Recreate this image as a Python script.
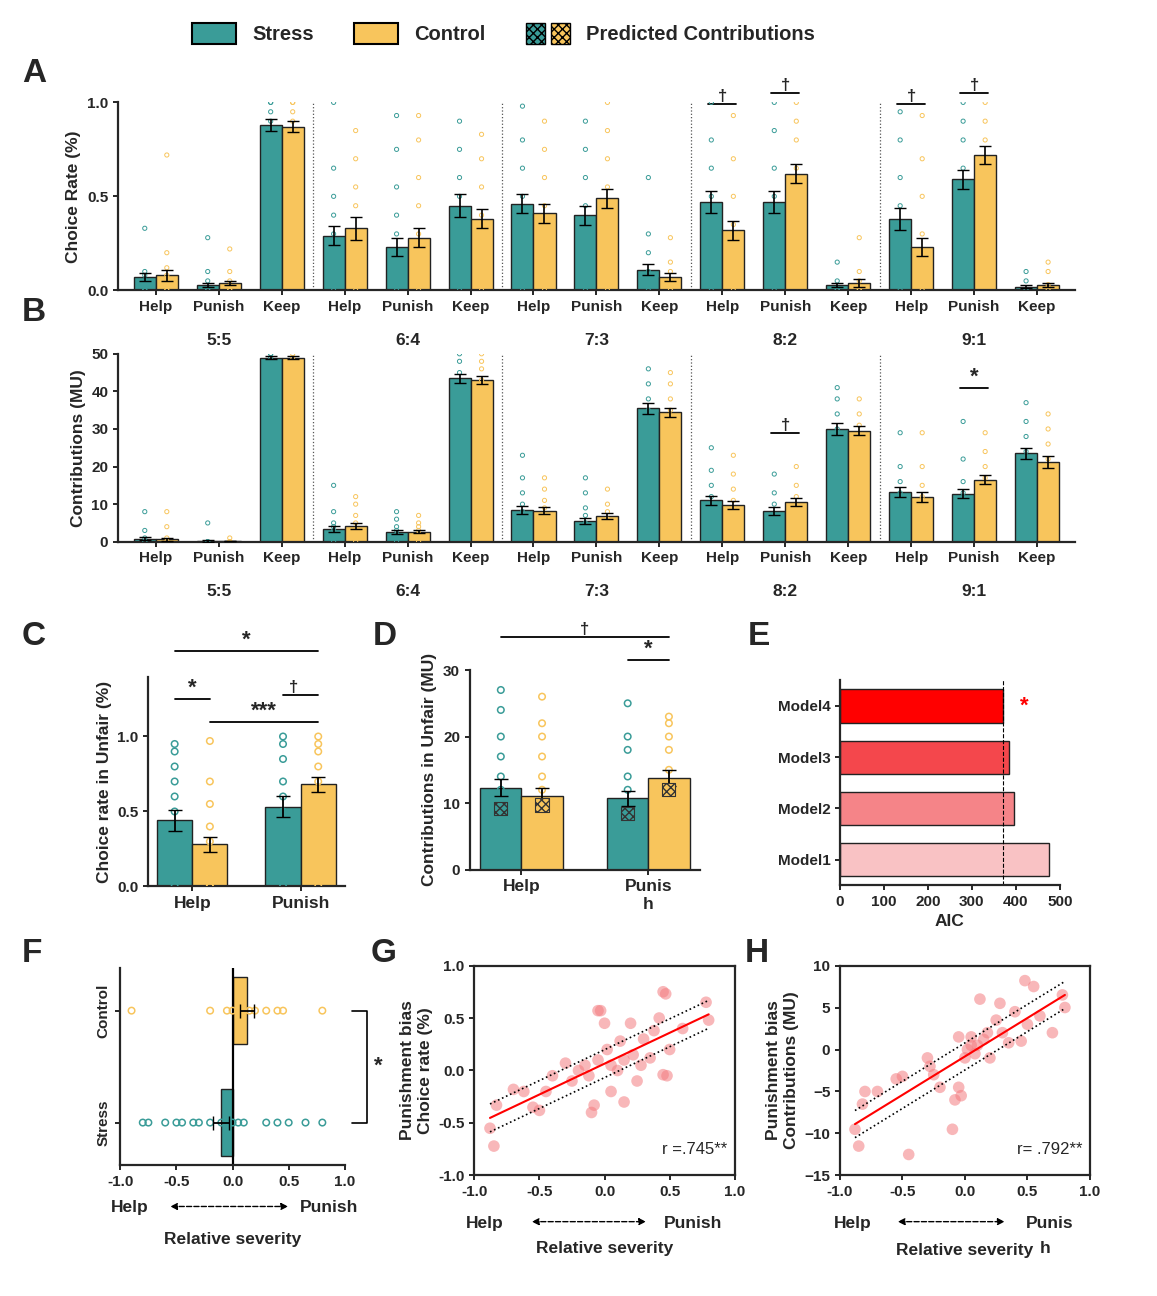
import numpy as np, pandas as pd, seaborn as sns, matplotlib
matplotlib.use("Agg")
import matplotlib.pyplot as plt
from matplotlib.patches import Patch
from matplotlib.legend_handler import HandlerTuple

sns.set_style("ticks")
plt.rcParams['font.family'] = ['Liberation Sans', 'DejaVu Sans']
plt.rcParams['font.weight'] = 'bold'
plt.rcParams['axes.labelweight'] = 'bold'
TEAL = "#3a9c98"; ORNG = "#f8c55c"; EDGE = "#222222"

ratios = ["5:5", "6:4", "7:3", "8:2", "9:1"]
choices = ["Help", "Punish", "Keep"]
conds = ["Stress", "Control"]

A_stress = [.07, .03, .88, .29, .23, .45, .46, .40, .11, .47, .47, .03, .38, .59, .02]
A_control = [.08, .04, .87, .33, .28, .38, .41, .49, .07, .32, .62, .04, .23, .72, .03]
A_sem_s = [.02, .01, .03, .05, .05, .06, .05, .05, .03, .06, .06, .01, .06, .05, .01]
A_sem_c = [.03, .01, .03, .06, .05, .05, .05, .05, .02, .05, .05, .02, .05, .05, .01]
A_pts_s = [[0,0,0,.08,.1,.33],[0,0,.05,.1,.28],[.4,.6,.75,.85,.9,.95,1,1],
           [0,.1,.2,.3,.4,.5,.65,1],[0,.1,.2,.3,.4,.55,.75,.93],[0,.2,.35,.5,.6,.75,.9],
           [0,.2,.35,.5,.65,.8,.98],[0,.15,.3,.45,.6,.75,.9],[0,.05,.1,.2,.3,.6],
           [0,.15,.3,.5,.65,.8,1],[0,.15,.3,.5,.65,.85,1],[0,0,.05,.15],
           [0,.1,.3,.45,.6,.8,.95],[.1,.3,.5,.65,.8,.9,1],[0,0,.05,.1]]
A_pts_c = [[0,0,.08,.12,.2,.72],[0,0,.05,.1,.22],[.45,.6,.8,.9,.95,1,1],
           [0,.1,.2,.3,.45,.55,.7,.85],[0,.1,.2,.3,.45,.6,.8,.93],[0,.1,.25,.4,.55,.7,.83],
           [0,.15,.3,.45,.6,.75,.9],[0,.2,.4,.55,.7,.85,1],[0,.05,.1,.15,.28],
           [0,.1,.2,.35,.5,.7,.93],[.1,.3,.5,.65,.8,.9,1],[0,0,.05,.1,.28],
           [0,.05,.15,.3,.5,.7,.93],[.3,.5,.65,.8,.9,1],[0,.03,.1,.15]]

B_stress = [.8, .2, 49, 3.5, 2.6, 43.5, 8.4, 5.5, 35.5, 11, 8.2, 30, 13.3, 12.8, 23.5]
B_control = [.7, .2, 49, 4.2, 2.6, 43, 8.3, 6.8, 34.5, 9.8, 10.6, 29.5, 11.8, 16.5, 21.2]
B_sem_s = [.4, .2, .5, .8, .5, 1.2, 1.0, .8, 1.5, 1.2, 1.0, 1.5, 1.3, 1.2, 1.5]
B_sem_c = [.4, .1, .3, .7, .4, 1.0, .9, .8, 1.2, 1.1, 1.1, 1.2, 1.3, 1.2, 1.6]
B_pts_s = [[0,0,1,3,8],[0,0,0,5],[36,44,48,49,50,50],[0,1,2,3,4,5,8,15],[0,1,2,3,4,6,8],
           [30,35,38,42,45,48,50],[2,4,6,8,10,13,17,23],[1,3,5,7,9,13,17],[15,25,30,35,38,42,46],
           [3,6,9,12,15,19,25],[1,4,7,10,13,18],[10,20,25,30,34,38,41],
           [3,7,10,13,16,20,29],[3,7,10,13,16,22,32],[8,15,20,24,28,32,37]]
B_pts_c = [[0,0,1,4,8],[0,0,0,1],[44,47,48,49,50],[0,1,2,3,5,7,10,12],[0,1,2,3,4,5,7],
           [33,37,40,43,46,48,50],[3,5,7,9,11,14,17],[2,4,6,8,10,14],[22,28,32,35,38,42,45],
           [2,5,8,11,14,18,23],[3,6,9,12,15,20],[18,24,28,31,34,38],
           [2,6,9,12,15,20,29],[5,10,14,17,20,24,29],[8,13,18,22,26,30,34]]

C_means = {"Stress": [.44, .53], "Control": [.28, .68]}
C_sem = {"Stress": [.07, .07], "Control": [.05, .05]}
C_pts = {"Stress": [[0,.05,.1,.2,.3,.4,.5,.6,.7,.8,.9,.95],[0,.1,.2,.3,.4,.5,.6,.7,.85,.95,1]],
         "Control": [[0,0,.05,.1,.15,.2,.3,.4,.55,.7,.97],[0,.35,.45,.55,.6,.7,.8,.9,.95,1]]}
D_means = {"Stress": [12.3, 10.7], "Control": [11.0, 13.7]}
D_sem = {"Stress": [1.3, 1.1], "Control": [1.2, 1.2]}
D_pred = {"Stress": [9.2, 8.4], "Control": [9.7, 12.0]}
D_pts = {"Stress": [[2,4,6,8,10,12,14,17,20,24,27],[2,4,6,8,10,12,14,18,20,25]],
         "Control": [[2,4,6,8,10,12,14,17,20,22,26],[1,5,8,11,13,15,18,20,22,23]]}
E_models = ["Model4", "Model3", "Model2", "Model1"]
E_aic = [370, 385, 395, 475]
E_cols = ["#ff0000", "#f4474c", "#f58488", "#f9c2c4"]
F_cond = ["Control", "Stress"]
F_means = [0.13, -0.1]
F_sem = [0.06, 0.07]
F_pts = [[-.9,-.2,-.05,0,.05,.1,.15,.2,.3,.4,.45,.8],
         [-.8,-.75,-.6,-.5,-.45,-.35,-.3,-.2,-.1,0,.05,.1,.3,.4,.5,.65,.8]]
G_x = [-.88,-.85,-.83,-.7,-.62,-.55,-.5,-.45,-.4,-.3,-.25,-.2,-.15,-.12,-.1,-.08,-.05,-.03,0,.02,.05,.05,.1,.12,.15,.2,.22,.25,.28,.3,.35,.38,.42,.45,.47,.48,.45,.5,.6,.78,.8,.15,-.05]
G_y = [-.55,-.72,-.33,-.18,-.2,-.35,-.38,-.2,-.05,.07,-.1,0,.05,-.05,-.4,-.33,.57,.57,.45,.2,-.2,.05,0,.28,.1,.45,.15,-.1,.05,.3,.12,.38,.5,.75,.73,-.05,-.04,.2,.4,.65,.48,-.3,.1]
H_x = [-.88,-.85,-.82,-.8,-.7,-.55,-.5,-.45,-.3,-.28,-.25,-.2,-.1,-.08,-.05,-.03,0,.02,.05,.08,.1,.12,.15,.18,.2,.25,.28,.3,.35,.4,.45,.48,.5,.55,.6,.7,.78,.8,-.05,.05]
H_y = [-9.5,-11.5,-6.5,-5,-5,-3.5,-3.2,-12.5,-1,-2,-3,-4.5,-9.5,-6,-4.5,-5.5,-1,0,1.5,-.5,.5,6,1.2,2,-1,3.5,5.5,2,.8,4.5,1,8.2,3,7.5,4,2,6.5,5,1.5,.5]

fig = plt.figure(figsize=(11.57, 12.96), dpi=100)
W = 0.7; off = W / 4

def hollow(ax, x, ys, color, s=14, lw=0.9, horiz=False):
    ys = np.asarray(ys, float)
    xs = np.full(len(ys), x)
    if horiz:
        ax.scatter(ys, xs, s=s, facecolors='none', edgecolors=color, linewidths=lw, zorder=4)
    else:
        ax.scatter(xs, ys, s=s, facecolors='none', edgecolors=color, linewidths=lw, zorder=4)

def sig(ax, x1, x2, y, txt, tx=None, fs=14, ty=0.0):
    ax.plot([x1, x2], [y, y], color='k', lw=1.3, clip_on=False)
    ax.text((x1 + x2) / 2 if tx is None else tx, y + ty, txt, ha='center', va='bottom', fontsize=fs, fontweight='bold')

def style(ax):
    sns.despine(ax=ax)
    for sp in ax.spines.values(): sp.set_linewidth(1.6)
    ax.tick_params(width=1.4, labelsize=11)

def bar_panel(ax, s_vals, c_vals, s_sem, c_sem, s_pts, c_pts, ymax, yticks, ylabel, psize):
    cats = [f"{r}_{c}" for r in ratios for c in choices]
    df = pd.DataFrame({"cat": cats * 2, "val": s_vals + c_vals, "cond": ["Stress"] * 15 + ["Control"] * 15})
    sns.barplot(data=df, x="cat", y="val", hue="cond", order=cats, hue_order=conds, saturation=1,
                palette=[TEAL, ORNG], width=W, edgecolor=EDGE, linewidth=1, errorbar=None, ax=ax, legend=False)
    for i in range(15):
        for sgn, m, e, pts, col in [(-1, s_vals[i], s_sem[i], s_pts[i], TEAL), (1, c_vals[i], c_sem[i], c_pts[i], ORNG)]:
            x = i + sgn * off
            hollow(ax, x, pts, col, s=psize, lw=0.7)
            ax.errorbar(x, m, yerr=e, color='k', capsize=4, lw=1.2, zorder=5)
    for k in range(1, 5):
        ax.axvline(3 * k - 0.5, color='#555555', ls=':', lw=0.9)
    ax.set_xlim(-0.6, 14.6); ax.set_ylim(0, ymax); ax.set_yticks(yticks)
    ax.set_xticks(range(15)); ax.set_xticklabels(choices * 5, fontsize=12.5, fontweight='bold')
    ax.set_xlabel(""); ax.set_ylabel(ylabel, fontsize=12.5, fontweight='bold')
    for k, r in enumerate(ratios):
        ax.text(3 * k + 1, -0.29, r, transform=ax.get_xaxis_transform(), ha='center', fontsize=12.5, fontweight='bold')
    style(ax)

axA = fig.add_axes([0.102, 0.776, 0.827, 0.145])
bar_panel(axA, A_stress, A_control, A_sem_s, A_sem_c, A_pts_s, A_pts_c, 1.0, [0, .5, 1.0], "Choice Rate (%)", 9)
axA.set_yticklabels(["0.0", "0.5", "1.0"])
for i, y in [(9, .99), (10, 1.05), (12, .99), (13, 1.05)]:
    sig(axA, i - off - 0.05, i + off + 0.05, y, "†", fs=12)

axB = fig.add_axes([0.102, 0.582, 0.827, 0.145])
bar_panel(axB, B_stress, B_control, B_sem_s, B_sem_c, B_pts_s, B_pts_c, 50, [0, 10, 20, 30, 40, 50], "Contributions (MU)", 9)
sig(axB, 10 - off - 0.05, 10 + off + 0.05, 29, "†", fs=12)
sig(axB, 13 - off - 0.05, 13 + off + 0.05, 41, "*", fs=16)

def two_panel(ax, means, sems, pts, ymax, yticks, ylabel, pred=None):
    df = pd.DataFrame({"grp": ["Help", "Punish"] * 2, "val": means["Stress"] + means["Control"],
                       "cond": ["Stress"] * 2 + ["Control"] * 2})
    sns.barplot(data=df, x="grp", y="val", hue="cond", hue_order=conds, palette=[TEAL, ORNG], saturation=1,
                width=0.65, edgecolor=EDGE, linewidth=1, errorbar=None, ax=ax, legend=False)
    o = 0.65 / 4
    for gi in range(2):
        for sgn, c, col in [(-1, "Stress", TEAL), (1, "Control", ORNG)]:
            x = gi + sgn * o
            hollow(ax, x, pts[c][gi], col, s=22, lw=1.1)
            ax.errorbar(x, means[c][gi], yerr=sems[c][gi], color='k', capsize=5, lw=1.3, zorder=5)
            if pred is not None:
                ax.scatter([x], [pred[c][gi]], marker='s', s=90, facecolor=col, edgecolor='#333333',
                           hatch='xxxx', linewidth=0.8, zorder=6)
    ax.set_ylim(0, ymax); ax.set_yticks(yticks)
    ax.set_xlabel(""); ax.set_ylabel(ylabel, fontsize=12.5, fontweight='bold')
    style(ax)
    ax.tick_params(axis='x', labelsize=12.5)

axC = fig.add_axes([0.128, 0.316, 0.170, 0.162])
two_panel(axC, C_means, C_sem, C_pts, 1.4, [0, .5, 1.0], "Choice rate in Unfair (%)")
axC.set_yticklabels(["0.0", "0.5", "1.0"])
o = 0.65 / 4
sig(axC, -o, o, 1.25, "*", fs=16)
sig(axC, o, 1 + o, 1.10, "***", fs=16)
sig(axC, 1 - o, 1 + o, 1.28, "†", fs=12, tx=1 - o + 0.1)
sig(axC, -o, 1 + o, 1.57, "*", fs=16)

axD = fig.add_axes([0.406, 0.329, 0.199, 0.154])
two_panel(axD, D_means, D_sem, D_pts, 30, [0, 10, 20, 30], "Contributions in Unfair (MU)", pred=D_pred)
axD.set_xticklabels(["Help", "Punis\nh"])
sig(axD, 1 - o, 1 + o, 31.5, "*", fs=16)
sig(axD, -o, 1 + o, 35, "†", fs=12)

axE = fig.add_axes([0.726, 0.317, 0.190, 0.158])
dfE = pd.DataFrame({"m": E_models, "aic": E_aic})
sns.barplot(data=dfE, y="m", x="aic", hue="m", palette=E_cols, legend=False, width=0.65, saturation=1,
            edgecolor=EDGE, linewidth=1, orient='h', ax=axE)
axE.axvline(E_aic[0], color='k', ls='--', lw=0.8)
axE.text(E_aic[0] + 40, 0, "*", color='red', fontsize=16, va='center', fontweight='bold')
axE.set_xlim(0, 500); axE.set_xticks([0, 100, 200, 300, 400, 500])
axE.set_xlabel("AIC", fontsize=12.5, fontweight='bold'); axE.set_ylabel("")
style(axE)

axF = fig.add_axes([0.104, 0.101, 0.194, 0.152])
dfF = pd.DataFrame({"c": F_cond, "v": F_means})
sns.barplot(data=dfF, y="c", x="v", hue="c", palette=[ORNG, TEAL], legend=False, width=0.6, saturation=1,
            edgecolor=EDGE, linewidth=1, orient='h', ax=axF)
for i, (pts, col) in enumerate(zip(F_pts, [ORNG, TEAL])):
    hollow(axF, i, pts, col, s=22, lw=1.1, horiz=True)
    axF.errorbar(F_means[i], i, xerr=F_sem[i], color='k', capsize=5, lw=1.3, zorder=5)
axF.axvline(0, color='k', lw=1.6)
axF.set_xlim(-1, 1.0); axF.set_xticks([-1, -.5, 0, .5, 1])
axF.set_xticklabels(["-1.0", "-0.5", "0.0", "0.5", "1.0"])
axF.set_ylabel(""); axF.set_xlabel("")
axF.set_yticks([0, 1]); axF.set_yticklabels(F_cond, rotation=90, va='center', fontsize=12.5)
axF.plot([1.03, 1.1, 1.1, 1.03], [0, 0, 1, 1], color='k', lw=1.2, clip_on=False, transform=axF.get_yaxis_transform())
axF.text(1.13, 0.5, "*", transform=axF.get_yaxis_transform(), fontsize=16, va='center')
style(axF)

def arrow_label(ax, y1, y2, xl, xr, right="Punish"):
    ax.text(xl, y1, "Help", transform=ax.transAxes, ha='center', fontsize=12.5, fontweight='bold')
    ax.text(xr, y1, right, transform=ax.transAxes, ha='center', fontsize=12.5, fontweight='bold')
    ax.annotate("", xy=(xr - 0.17, y1 + 0.03), xytext=(xl + 0.17, y1 + 0.03), xycoords='axes fraction',
                arrowprops=dict(arrowstyle='<|-|>', ls='--', color='k', lw=1))
    ax.text(0.5, y2, "Relative severity", transform=ax.transAxes, ha='center', fontsize=12.5, fontweight='bold')

arrow_label(axF, -0.24, -0.4, 0.04, 0.93)

def scatter_panel(ax, x, y, ylim, yticks, ylabel, rtxt):
    sns.regplot(x=np.array(x), y=np.array(y), ax=ax, ci=None, color='red',
                scatter_kws=dict(s=70, color='#f47c80', alpha=0.55, edgecolor='none'),
                line_kws=dict(lw=1.5, color='red'))
    b, a = np.polyfit(x, y, 1)
    res = np.std(np.array(y) - (a + b * np.array(x)))
    xx = np.linspace(min(x), max(x), 10)
    for sgn in (-1, 1):
        ax.plot(xx, a + b * xx + sgn * 0.55 * res, ls=':', color='k', lw=1.2)
    ax.set_xlim(-1, 1); ax.set_xticks([-1, -.5, 0, .5, 1])
    ax.set_xticklabels(["-1.0", "-0.5", "0.0", "0.5", "1.0"])
    ax.set_ylim(*ylim); ax.set_yticks(yticks)
    ax.set_ylabel(ylabel, fontsize=12.5, fontweight='bold'); ax.set_xlabel("")
    ax.text(0.97, 0.1, rtxt, transform=ax.transAxes, ha='right', fontsize=12, fontweight='normal')
    for sp in ax.spines.values(): sp.set_linewidth(1.6)
    ax.tick_params(width=1.4, labelsize=11)

axG = fig.add_axes([0.41, 0.093, 0.225, 0.162])
scatter_panel(axG, G_x, G_y, (-1, 1), [-1, -.5, 0, .5, 1], "Punishment bias\nChoice rate (%)", "r =.745**")
axG.set_yticklabels(["-1.0", "-0.5", "0.0", "0.5", "1.0"])
arrow_label(axG, -0.25, -0.37, 0.04, 0.84)

axH = fig.add_axes([0.726, 0.093, 0.216, 0.162])
scatter_panel(axH, H_x, H_y, (-15, 10), [-15, -10, -5, 0, 5, 10], "Punishment bias\nContributions (MU)", "r= .792**")
arrow_label(axH, -0.25, -0.38, 0.05, 0.84, right="Punis")
axH.text(0.80, -0.37, "h", transform=axH.transAxes, fontsize=12.5, fontweight='bold')

for lbl, x, y in [("A", .019, .937), ("B", .019, .752), ("C", .019, .502), ("D", .322, .502),
                  ("E", .646, .502), ("F", .019, .258), ("G", .32, .258), ("H", .644, .258)]:
    fig.text(x, y, lbl, fontsize=24, fontweight='bold')

hS = Patch(facecolor=TEAL, edgecolor='k', lw=1.5); hC = Patch(facecolor=ORNG, edgecolor='k', lw=1.5)
p1 = Patch(facecolor=TEAL, edgecolor='k', hatch='xxxx', lw=1); p2 = Patch(facecolor=ORNG, edgecolor='k', hatch='xxxx', lw=1)
fig.legend([hS, hC, (p1, p2)], ["Stress", "Control", "Predicted Contributions"],
           handler_map={tuple: HandlerTuple(ndivide=None, pad=0.3)}, loc='center', bbox_to_anchor=(0.435, 0.974),
           ncol=3, frameon=False, handlelength=2.2, handleheight=1.2, columnspacing=2.0,
           prop=dict(weight='bold', size=14.5))
fig.savefig("out.png", dpi=100)
